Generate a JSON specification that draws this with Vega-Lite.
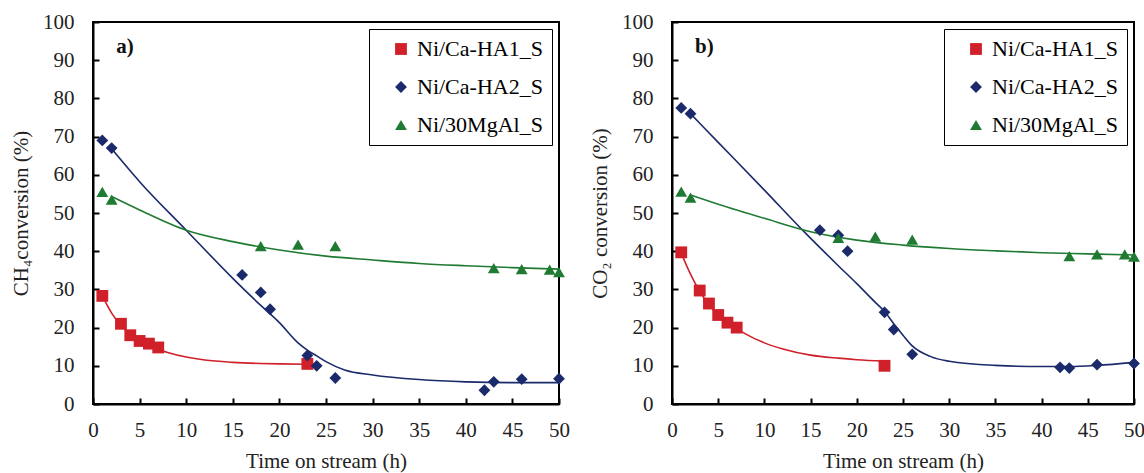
{
  "$schema": "https://vega.github.io/schema/vega-lite/v6.json",
  "padding": {"left": 9, "top": 10, "right": 2, "bottom": 2},
  "background": "white",
  "config": {
    "font": "Liberation Serif",
    "view": {"stroke": "black", "strokeWidth": 2},
    "axis": {
      "grid": false, "domainColor": "black", "domainWidth": 2, "tickColor": "black", "tickWidth": 2, "tickSize": -6,
      "labelFont": "Liberation Serif", "labelFontSize": 21, "labelColor": "#222", "labelOverlap": false, "labelFlush": false,
      "titleFont": "Liberation Serif", "titleFontSize": 21, "titleFontWeight": "normal", "titleColor": "#222"
    },
    "axisX": {"labelPadding": 21, "titlePadding": 10},
    "axisY": {"labelPadding": 25, "titlePadding": 11},
    "legend": {"labelFont": "Liberation Serif", "labelFontSize": 22}
  },
  "datasets": {
    "points": [
      {"panel": "a", "series": "Ni/Ca-HA1_S", "t": 1, "v": 28.3},
      {"panel": "a", "series": "Ni/Ca-HA1_S", "t": 3, "v": 21},
      {"panel": "a", "series": "Ni/Ca-HA1_S", "t": 4, "v": 18},
      {"panel": "a", "series": "Ni/Ca-HA1_S", "t": 5, "v": 16.5},
      {"panel": "a", "series": "Ni/Ca-HA1_S", "t": 6, "v": 15.8},
      {"panel": "a", "series": "Ni/Ca-HA1_S", "t": 7, "v": 14.8},
      {"panel": "a", "series": "Ni/Ca-HA1_S", "t": 23, "v": 10.5},
      {"panel": "a", "series": "Ni/Ca-HA2_S", "t": 1, "v": 69},
      {"panel": "a", "series": "Ni/Ca-HA2_S", "t": 2, "v": 67},
      {"panel": "a", "series": "Ni/Ca-HA2_S", "t": 16, "v": 33.8},
      {"panel": "a", "series": "Ni/Ca-HA2_S", "t": 18, "v": 29.2},
      {"panel": "a", "series": "Ni/Ca-HA2_S", "t": 19, "v": 24.8},
      {"panel": "a", "series": "Ni/Ca-HA2_S", "t": 23, "v": 12.7},
      {"panel": "a", "series": "Ni/Ca-HA2_S", "t": 24, "v": 10},
      {"panel": "a", "series": "Ni/Ca-HA2_S", "t": 26, "v": 6.8},
      {"panel": "a", "series": "Ni/Ca-HA2_S", "t": 42, "v": 3.6},
      {"panel": "a", "series": "Ni/Ca-HA2_S", "t": 43, "v": 5.8},
      {"panel": "a", "series": "Ni/Ca-HA2_S", "t": 46, "v": 6.5},
      {"panel": "a", "series": "Ni/Ca-HA2_S", "t": 50, "v": 6.6},
      {"panel": "a", "series": "Ni/30MgAl_S", "t": 1, "v": 55.5},
      {"panel": "a", "series": "Ni/30MgAl_S", "t": 2, "v": 53.5},
      {"panel": "a", "series": "Ni/30MgAl_S", "t": 18, "v": 41.3},
      {"panel": "a", "series": "Ni/30MgAl_S", "t": 22, "v": 41.7},
      {"panel": "a", "series": "Ni/30MgAl_S", "t": 26, "v": 41.3},
      {"panel": "a", "series": "Ni/30MgAl_S", "t": 43, "v": 35.6},
      {"panel": "a", "series": "Ni/30MgAl_S", "t": 46, "v": 35.3},
      {"panel": "a", "series": "Ni/30MgAl_S", "t": 49, "v": 35.2},
      {"panel": "a", "series": "Ni/30MgAl_S", "t": 50, "v": 34.5},
      {"panel": "b", "series": "Ni/Ca-HA1_S", "t": 1, "v": 39.7},
      {"panel": "b", "series": "Ni/Ca-HA1_S", "t": 3, "v": 29.7},
      {"panel": "b", "series": "Ni/Ca-HA1_S", "t": 4, "v": 26.3},
      {"panel": "b", "series": "Ni/Ca-HA1_S", "t": 5, "v": 23.3},
      {"panel": "b", "series": "Ni/Ca-HA1_S", "t": 6, "v": 21.3},
      {"panel": "b", "series": "Ni/Ca-HA1_S", "t": 7, "v": 20},
      {"panel": "b", "series": "Ni/Ca-HA1_S", "t": 23, "v": 10},
      {"panel": "b", "series": "Ni/Ca-HA2_S", "t": 1, "v": 77.5},
      {"panel": "b", "series": "Ni/Ca-HA2_S", "t": 2, "v": 76},
      {"panel": "b", "series": "Ni/Ca-HA2_S", "t": 16, "v": 45.5},
      {"panel": "b", "series": "Ni/Ca-HA2_S", "t": 18, "v": 44.2},
      {"panel": "b", "series": "Ni/Ca-HA2_S", "t": 19, "v": 40},
      {"panel": "b", "series": "Ni/Ca-HA2_S", "t": 23, "v": 24},
      {"panel": "b", "series": "Ni/Ca-HA2_S", "t": 24, "v": 19.5},
      {"panel": "b", "series": "Ni/Ca-HA2_S", "t": 26, "v": 13},
      {"panel": "b", "series": "Ni/Ca-HA2_S", "t": 42, "v": 9.6},
      {"panel": "b", "series": "Ni/Ca-HA2_S", "t": 43, "v": 9.4},
      {"panel": "b", "series": "Ni/Ca-HA2_S", "t": 46, "v": 10.3},
      {"panel": "b", "series": "Ni/Ca-HA2_S", "t": 50, "v": 10.6},
      {"panel": "b", "series": "Ni/30MgAl_S", "t": 1, "v": 55.6},
      {"panel": "b", "series": "Ni/30MgAl_S", "t": 2, "v": 54},
      {"panel": "b", "series": "Ni/30MgAl_S", "t": 18, "v": 43.5},
      {"panel": "b", "series": "Ni/30MgAl_S", "t": 22, "v": 43.8},
      {"panel": "b", "series": "Ni/30MgAl_S", "t": 26, "v": 43},
      {"panel": "b", "series": "Ni/30MgAl_S", "t": 43, "v": 38.7},
      {"panel": "b", "series": "Ni/30MgAl_S", "t": 46, "v": 39.2},
      {"panel": "b", "series": "Ni/30MgAl_S", "t": 49, "v": 39.2},
      {"panel": "b", "series": "Ni/30MgAl_S", "t": 50, "v": 38.6}
    ],
    "curves": [
      {"panel": "a", "series": "Ni/Ca-HA1_S", "t": 1, "v": 28.3},
      {"panel": "a", "series": "Ni/Ca-HA1_S", "t": 2, "v": 23.8},
      {"panel": "a", "series": "Ni/Ca-HA1_S", "t": 3, "v": 20.6},
      {"panel": "a", "series": "Ni/Ca-HA1_S", "t": 4, "v": 18.2},
      {"panel": "a", "series": "Ni/Ca-HA1_S", "t": 5, "v": 16.5},
      {"panel": "a", "series": "Ni/Ca-HA1_S", "t": 6, "v": 15.2},
      {"panel": "a", "series": "Ni/Ca-HA1_S", "t": 7, "v": 14.3},
      {"panel": "a", "series": "Ni/Ca-HA1_S", "t": 8, "v": 13.5},
      {"panel": "a", "series": "Ni/Ca-HA1_S", "t": 10, "v": 12.3},
      {"panel": "a", "series": "Ni/Ca-HA1_S", "t": 12, "v": 11.5},
      {"panel": "a", "series": "Ni/Ca-HA1_S", "t": 15, "v": 10.9},
      {"panel": "a", "series": "Ni/Ca-HA1_S", "t": 18, "v": 10.6},
      {"panel": "a", "series": "Ni/Ca-HA1_S", "t": 20, "v": 10.5},
      {"panel": "a", "series": "Ni/Ca-HA1_S", "t": 23, "v": 10.4},
      {"panel": "a", "series": "Ni/Ca-HA2_S", "t": 2, "v": 66.8},
      {"panel": "a", "series": "Ni/Ca-HA2_S", "t": 5, "v": 58.2},
      {"panel": "a", "series": "Ni/Ca-HA2_S", "t": 10, "v": 45.5},
      {"panel": "a", "series": "Ni/Ca-HA2_S", "t": 15, "v": 32.9},
      {"panel": "a", "series": "Ni/Ca-HA2_S", "t": 18, "v": 25.8},
      {"panel": "a", "series": "Ni/Ca-HA2_S", "t": 20, "v": 21.3},
      {"panel": "a", "series": "Ni/Ca-HA2_S", "t": 22, "v": 16},
      {"panel": "a", "series": "Ni/Ca-HA2_S", "t": 23, "v": 14.1},
      {"panel": "a", "series": "Ni/Ca-HA2_S", "t": 24, "v": 12.6},
      {"panel": "a", "series": "Ni/Ca-HA2_S", "t": 25, "v": 11.1},
      {"panel": "a", "series": "Ni/Ca-HA2_S", "t": 27, "v": 8.9},
      {"panel": "a", "series": "Ni/Ca-HA2_S", "t": 30, "v": 7.6},
      {"panel": "a", "series": "Ni/Ca-HA2_S", "t": 35, "v": 6.4},
      {"panel": "a", "series": "Ni/Ca-HA2_S", "t": 40, "v": 5.8},
      {"panel": "a", "series": "Ni/Ca-HA2_S", "t": 45, "v": 5.6},
      {"panel": "a", "series": "Ni/Ca-HA2_S", "t": 50, "v": 5.6},
      {"panel": "a", "series": "Ni/30MgAl_S", "t": 2, "v": 54.3},
      {"panel": "a", "series": "Ni/30MgAl_S", "t": 5, "v": 50.8},
      {"panel": "a", "series": "Ni/30MgAl_S", "t": 10, "v": 45.5},
      {"panel": "a", "series": "Ni/30MgAl_S", "t": 15, "v": 42.5},
      {"panel": "a", "series": "Ni/30MgAl_S", "t": 20, "v": 40.3},
      {"panel": "a", "series": "Ni/30MgAl_S", "t": 25, "v": 38.7},
      {"panel": "a", "series": "Ni/30MgAl_S", "t": 30, "v": 37.7},
      {"panel": "a", "series": "Ni/30MgAl_S", "t": 35, "v": 36.8},
      {"panel": "a", "series": "Ni/30MgAl_S", "t": 40, "v": 36.2},
      {"panel": "a", "series": "Ni/30MgAl_S", "t": 45, "v": 35.7},
      {"panel": "a", "series": "Ni/30MgAl_S", "t": 50, "v": 35.3},
      {"panel": "b", "series": "Ni/Ca-HA1_S", "t": 1, "v": 39.5},
      {"panel": "b", "series": "Ni/Ca-HA1_S", "t": 2, "v": 34},
      {"panel": "b", "series": "Ni/Ca-HA1_S", "t": 3, "v": 29.5},
      {"panel": "b", "series": "Ni/Ca-HA1_S", "t": 4, "v": 26},
      {"panel": "b", "series": "Ni/Ca-HA1_S", "t": 5, "v": 23.3},
      {"panel": "b", "series": "Ni/Ca-HA1_S", "t": 6, "v": 21.3},
      {"panel": "b", "series": "Ni/Ca-HA1_S", "t": 7, "v": 19.8},
      {"panel": "b", "series": "Ni/Ca-HA1_S", "t": 8, "v": 18.3},
      {"panel": "b", "series": "Ni/Ca-HA1_S", "t": 10, "v": 16},
      {"panel": "b", "series": "Ni/Ca-HA1_S", "t": 12, "v": 14.4},
      {"panel": "b", "series": "Ni/Ca-HA1_S", "t": 15, "v": 12.8},
      {"panel": "b", "series": "Ni/Ca-HA1_S", "t": 18, "v": 12},
      {"panel": "b", "series": "Ni/Ca-HA1_S", "t": 20, "v": 11.6},
      {"panel": "b", "series": "Ni/Ca-HA1_S", "t": 23, "v": 11.2},
      {"panel": "b", "series": "Ni/Ca-HA2_S", "t": 2, "v": 76},
      {"panel": "b", "series": "Ni/Ca-HA2_S", "t": 5, "v": 68.5},
      {"panel": "b", "series": "Ni/Ca-HA2_S", "t": 10, "v": 56},
      {"panel": "b", "series": "Ni/Ca-HA2_S", "t": 14.5, "v": 44.6},
      {"panel": "b", "series": "Ni/Ca-HA2_S", "t": 18, "v": 36.2},
      {"panel": "b", "series": "Ni/Ca-HA2_S", "t": 20, "v": 31.5},
      {"panel": "b", "series": "Ni/Ca-HA2_S", "t": 22, "v": 26.6},
      {"panel": "b", "series": "Ni/Ca-HA2_S", "t": 23, "v": 24.2},
      {"panel": "b", "series": "Ni/Ca-HA2_S", "t": 24, "v": 21},
      {"panel": "b", "series": "Ni/Ca-HA2_S", "t": 25, "v": 18},
      {"panel": "b", "series": "Ni/Ca-HA2_S", "t": 26, "v": 15.2},
      {"panel": "b", "series": "Ni/Ca-HA2_S", "t": 28, "v": 12.4},
      {"panel": "b", "series": "Ni/Ca-HA2_S", "t": 30, "v": 11.2},
      {"panel": "b", "series": "Ni/Ca-HA2_S", "t": 35, "v": 10.1},
      {"panel": "b", "series": "Ni/Ca-HA2_S", "t": 40, "v": 9.8},
      {"panel": "b", "series": "Ni/Ca-HA2_S", "t": 43, "v": 9.8},
      {"panel": "b", "series": "Ni/Ca-HA2_S", "t": 46, "v": 10.1},
      {"panel": "b", "series": "Ni/Ca-HA2_S", "t": 50, "v": 10.9},
      {"panel": "b", "series": "Ni/30MgAl_S", "t": 2, "v": 54.7},
      {"panel": "b", "series": "Ni/30MgAl_S", "t": 5, "v": 52.3},
      {"panel": "b", "series": "Ni/30MgAl_S", "t": 10, "v": 48.6},
      {"panel": "b", "series": "Ni/30MgAl_S", "t": 15, "v": 45.1},
      {"panel": "b", "series": "Ni/30MgAl_S", "t": 20, "v": 42.9},
      {"panel": "b", "series": "Ni/30MgAl_S", "t": 25, "v": 41.6},
      {"panel": "b", "series": "Ni/30MgAl_S", "t": 30, "v": 40.7},
      {"panel": "b", "series": "Ni/30MgAl_S", "t": 35, "v": 40.1},
      {"panel": "b", "series": "Ni/30MgAl_S", "t": 40, "v": 39.6},
      {"panel": "b", "series": "Ni/30MgAl_S", "t": 45, "v": 39.3},
      {"panel": "b", "series": "Ni/30MgAl_S", "t": 50, "v": 39.0}
    ],
    "labels": [
      {"panel": "a", "label": "a)", "t": 2.5, "v": 93.5},
      {"panel": "b", "label": "b)", "t": 2.5, "v": 93.5}
    ]
  },
  "spacing": 17,
  "resolve": {"legend": {"color": "independent", "shape": "independent"}},
  "hconcat": [
    {
      "width": 466, "height": 382,
      "layer": [
        {
          "data": {"name": "curves"},
          "transform": [{"filter": "datum.panel === 'a'"}],
          "mark": {"type": "line", "interpolate": "monotone", "strokeWidth": 1.6},
          "encoding": {
            "x": {"field": "t", "type": "quantitative", "title": "Time on stream (h)", "scale": {"domain": [0, 50], "nice": false},
              "axis": {"values": [0,5,10,15,20,25,30,35,40,45,50], "labelOverlap": false,
                "encode": {"labels": {"update": {"font": {"value": "Liberation Serif"}}}}}},
            "y": {"field": "v", "type": "quantitative", "title": "CH₄conversion (%)", "scale": {"domain": [0, 100], "nice": false},
              "axis": {"values": [0,10,20,30,40,50,60,70,80,90,100], "tickCount": 11, "labelOverlap": false,
                "encode": {"labels": {"update": {"font": {"value": "Liberation Serif"}}}}}},
            "detail": {"field": "series"},
            "stroke": {"field": "series", "type": "nominal", "legend": null,
              "scale": {"domain": ["Ni/Ca-HA1_S", "Ni/Ca-HA2_S", "Ni/30MgAl_S"], "range": ["#d0202a", "#1b2a6b", "#1f7a32"]}}
          }
        },
        {
          "data": {"name": "points"},
          "transform": [{"filter": "datum.panel === 'a'"}],
          "mark": {"type": "point", "filled": true, "size": 140, "opacity": 1},
          "encoding": {
            "x": {"field": "t", "type": "quantitative"},
            "y": {"field": "v", "type": "quantitative"},
            "color": {"field": "series", "type": "nominal", "title": null,
              "scale": {"domain": ["Ni/Ca-HA1_S", "Ni/Ca-HA2_S", "Ni/30MgAl_S"], "range": ["#d0202a", "#1b2a6b", "#1f7a32"]},
              "legend": {"orient": "top-right", "offset": 7, "strokeColor": "black", "fillColor": "white", "labelFontSize": 22,
                "padding": 9, "rowPadding": 16, "symbolSize": 140, "symbolStrokeWidth": 0, "symbolOffset": 12, "labelLimit": 300, "labelOffset": 5,
                "encode": {
                  "legend": {"update": {"strokeWidth": {"value": 2}}},
                  "labels": {"update": {"font": {"value": "Liberation Serif"}, "fill": {"signal": "datum.value === 'Ni/Ca-HA1_S' ? '#d0202a' : datum.value === 'Ni/Ca-HA2_S' ? '#1b2a6b' : '#1f7a32'"}}}}}},
            "shape": {"field": "series", "type": "nominal", "title": null,
              "scale": {"domain": ["Ni/Ca-HA1_S", "Ni/Ca-HA2_S", "Ni/30MgAl_S"], "range": ["square", "diamond", "triangle-up"]}}
          }
        },
        {
          "data": {"name": "labels"},
          "transform": [{"filter": "datum.panel === 'a'"}],
          "mark": {"type": "text", "align": "left", "baseline": "middle", "fontSize": 21, "fontWeight": "bold", "font": "Liberation Serif", "color": "#111"},
          "encoding": {
            "x": {"field": "t", "type": "quantitative"},
            "y": {"field": "v", "type": "quantitative"},
            "text": {"field": "label"}
          }
        }
      ]
    },
    {
      "width": 462, "height": 382,
      "layer": [
        {
          "data": {"name": "curves"},
          "transform": [{"filter": "datum.panel === 'b'"}],
          "mark": {"type": "line", "interpolate": "monotone", "strokeWidth": 1.6},
          "encoding": {
            "x": {"field": "t", "type": "quantitative", "title": "Time on stream (h)", "scale": {"domain": [0, 50], "nice": false},
              "axis": {"values": [0,5,10,15,20,25,30,35,40,45,50], "labelOverlap": false,
                "encode": {"labels": {"update": {"font": {"value": "Liberation Serif"}}}}}},
            "y": {"field": "v", "type": "quantitative", "title": "CO₂ conversion (%)", "scale": {"domain": [0, 100], "nice": false},
              "axis": {"values": [0,10,20,30,40,50,60,70,80,90,100], "tickCount": 11, "labelOverlap": false,
                "encode": {"labels": {"update": {"font": {"value": "Liberation Serif"}}}}}},
            "detail": {"field": "series"},
            "stroke": {"field": "series", "type": "nominal", "legend": null,
              "scale": {"domain": ["Ni/Ca-HA1_S", "Ni/Ca-HA2_S", "Ni/30MgAl_S"], "range": ["#d0202a", "#1b2a6b", "#1f7a32"]}}
          }
        },
        {
          "data": {"name": "points"},
          "transform": [{"filter": "datum.panel === 'b'"}],
          "mark": {"type": "point", "filled": true, "size": 140, "opacity": 1},
          "encoding": {
            "x": {"field": "t", "type": "quantitative"},
            "y": {"field": "v", "type": "quantitative"},
            "color": {"field": "series", "type": "nominal", "title": null,
              "scale": {"domain": ["Ni/Ca-HA1_S", "Ni/Ca-HA2_S", "Ni/30MgAl_S"], "range": ["#d0202a", "#1b2a6b", "#1f7a32"]},
              "legend": {"orient": "top-right", "offset": 7, "strokeColor": "black", "fillColor": "white", "labelFontSize": 22,
                "padding": 9, "rowPadding": 16, "symbolSize": 140, "symbolStrokeWidth": 0, "symbolOffset": 12, "labelLimit": 300, "labelOffset": 5,
                "encode": {
                  "legend": {"update": {"strokeWidth": {"value": 2}}},
                  "labels": {"update": {"font": {"value": "Liberation Serif"}, "fill": {"signal": "datum.value === 'Ni/Ca-HA1_S' ? '#d0202a' : datum.value === 'Ni/Ca-HA2_S' ? '#1b2a6b' : '#1f7a32'"}}}}}},
            "shape": {"field": "series", "type": "nominal", "title": null,
              "scale": {"domain": ["Ni/Ca-HA1_S", "Ni/Ca-HA2_S", "Ni/30MgAl_S"], "range": ["square", "diamond", "triangle-up"]}}
          }
        },
        {
          "data": {"name": "labels"},
          "transform": [{"filter": "datum.panel === 'b'"}],
          "mark": {"type": "text", "align": "left", "baseline": "middle", "fontSize": 21, "fontWeight": "bold", "font": "Liberation Serif", "color": "#111"},
          "encoding": {
            "x": {"field": "t", "type": "quantitative"},
            "y": {"field": "v", "type": "quantitative"},
            "text": {"field": "label"}
          }
        }
      ]
    }
  ]
}
